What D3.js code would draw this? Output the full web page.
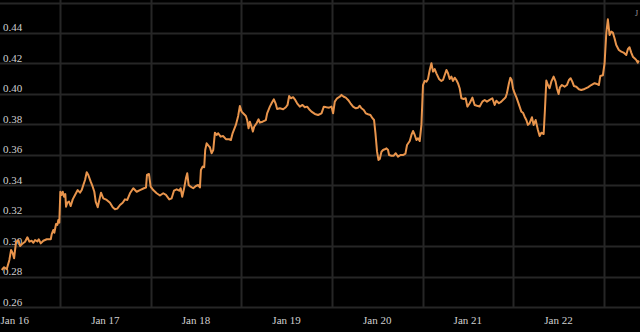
<!DOCTYPE html>
<html>
<head>
<meta charset="utf-8">
<script src="https://cdn.jsdelivr.net/npm/d3@7"></script>
<style>
  html, body { margin: 0; padding: 0; background: #000; }
  svg { display: block; }
</style>
</head>
<body>
<svg></svg>
<script>
// hours since Jan 16 00:00
const hours = [8.57,9.18,9.90,10.58,11.03,11.48,11.83,12.36,12.97,13.42,13.95,14.74,15.35,15.88,16.51,16.94,17.39,17.99,18.36,18.89,
  19.58,20.48,21.54,21.80,22.23,22.49,22.94,23.29,23.55,23.81,24.08,24.45,24.72,25.06,25.40,25.59,25.93,26.38,26.83,27.36,
  27.97,28.68,29.29,29.74,30.17,30.62,31.07,31.49,32.12,32.65,33.08,33.45,33.98,34.40,34.85,35.46,36.36,37.23,37.95,38.55,
  39.16,39.88,40.59,41.20,41.81,42.52,43.40,44.30,45.17,46.23,46.76,47.02,47.55,48.00,48.69,49.59,50.46,51.33,52.05,52.92,
  53.56,54.17,54.88,55.57,55.94,56.36,56.81,57.34,57.69,58.06,58.59,59.27,59.99,60.60,61.05,61.31,61.76,62.18,62.45,62.82,
  63.35,63.69,64.14,64.57,65.02,65.47,65.89,66.52,67.21,67.93,68.80,69.25,69.70,70.57,71.18,71.63,72.08,72.69,73.22,73.56,
  73.93,74.28,74.73,75.07,75.42,76.05,76.58,76.92,77.64,78.51,78.85,79.57,80.10,80.63,81.08,81.50,82.21,83.09,83.80,84.25,
  84.68,85.12,85.73,86.18,86.79,87.51,88.22,88.83,89.44,89.97,90.60,91.48,92.35,93.25,93.86,94.57,95.26,95.90,96.32,96.77,
  97.38,98.09,98.54,99.15,99.68,100.29,100.92,101.61,102.33,102.93,103.38,103.83,104.44,104.97,105.58,106.21,106.74,107.17,107.54,107.96,
  108.33,108.68,109.13,109.55,110.00,110.45,110.87,111.14,111.77,112.38,112.91,113.52,114.15,114.84,115.48,115.90,116.62,117.07,117.49,117.94,
  118.39,118.81,119.26,119.71,120.13,120.58,121.03,121.46,121.91,122.36,122.78,123.23,123.68,124.37,125.00,125.43,125.88,126.33,126.75,127.20,
  127.65,128.07,128.52,128.97,129.39,129.84,130.30,130.90,131.43,131.88,132.49,133.21,133.81,134.42,135.14,135.85,136.46,137.07,137.78,138.50,
  139.11,139.56,140.24,140.88,141.49,142.02,142.36,142.89,143.26,143.61,143.95,144.40,144.85,145.27,145.72,146.17,146.60,147.05,147.50,147.92,
  148.37,148.98,149.43,149.96,150.57,151.02,151.47,152.08,152.42,152.79,153.21,153.66,154.11,154.72,155.25,155.59,156.04,156.39,156.92,157.63,
  158.24,158.77,159.22,159.67,160.09,160.73,161.41,162.05,162.92,163.79,164.69,165.57,166.18,166.71,167.08,167.77,168.22,168.67,169.09,169.54,
  169.99,170.41,170.86,171.31,172.00,172.64,173.24,173.96,174.38,174.83,175.28,175.71,176.15,176.60,177.03,177.29];

const rate = [0.2843,0.2861,0.2849,0.2909,0.2974,0.2953,0.2920,0.3029,0.3040,0.3001,0.3014,0.3029,0.3058,0.3029,0.3035,0.3022,0.3040,0.3031,0.3045,0.3018,
  0.3035,0.3045,0.3045,0.3079,0.3106,0.3088,0.3145,0.3139,0.3171,0.3154,0.3357,0.3336,0.3357,0.3324,0.3342,0.3259,0.3285,0.3292,0.3263,0.3307,
  0.3336,0.3368,0.3351,0.3368,0.3401,0.3434,0.3485,0.3467,0.3423,0.3390,0.3357,0.3292,0.3255,0.3303,0.3351,0.3314,0.3303,0.3285,0.3255,0.3242,
  0.3246,0.3270,0.3285,0.3307,0.3303,0.3347,0.3380,0.3357,0.3368,0.3380,0.3384,0.3467,0.3474,0.3390,0.3368,0.3347,0.3332,0.3347,0.3336,0.3307,
  0.3314,0.3364,0.3373,0.3364,0.3380,0.3324,0.3373,0.3445,0.3478,0.3401,0.3390,0.3380,0.3395,0.3401,0.3386,0.3500,0.3522,0.3518,0.3631,0.3675,
  0.3658,0.3649,0.3610,0.3631,0.3745,0.3730,0.3741,0.3719,0.3723,0.3702,0.3702,0.3697,0.3741,0.3796,0.3855,0.3920,0.3883,0.3868,0.3855,0.3828,
  0.3774,0.3817,0.3784,0.3752,0.3784,0.3807,0.3833,0.3811,0.3817,0.3828,0.3872,0.3916,0.3942,0.3964,0.3938,0.3901,0.3905,0.3899,0.3912,0.3927,
  0.3986,0.3971,0.3978,0.3964,0.3938,0.3916,0.3927,0.3912,0.3916,0.3899,0.3883,0.3868,0.3861,0.3872,0.3916,0.3912,0.3909,0.3916,0.3872,0.3949,
  0.3971,0.3981,0.3993,0.3981,0.3975,0.3960,0.3938,0.3916,0.3905,0.3909,0.3922,0.3905,0.3894,0.3872,0.3866,0.3861,0.3840,0.3828,0.3741,0.3620,
  0.3566,0.3572,0.3620,0.3631,0.3636,0.3642,0.3631,0.3598,0.3594,0.3594,0.3610,0.3587,0.3598,0.3598,0.3607,0.3664,0.3690,0.3730,0.3756,0.3730,
  0.3697,0.3708,0.3690,0.3796,0.4058,0.4085,0.4080,0.4098,0.4157,0.4201,0.4146,0.4163,0.4135,0.4098,0.4085,0.4091,0.4124,0.4157,0.4135,0.4098,
  0.4113,0.4085,0.4106,0.4091,0.4070,0.4037,0.3971,0.3966,0.3971,0.3916,0.3938,0.3975,0.3927,0.3922,0.3917,0.3949,0.3960,0.3949,0.3960,0.3971,
  0.3927,0.3955,0.3938,0.3949,0.3964,0.3978,0.4004,0.4070,0.4106,0.4091,0.4037,0.4004,0.3978,0.3949,0.3916,0.3883,0.3876,0.3850,0.3828,0.3796,
  0.3807,0.3846,0.3796,0.3828,0.3763,0.3723,0.3745,0.3736,0.3894,0.4087,0.4058,0.4037,0.4080,0.4113,0.4080,0.4037,0.3999,0.4043,0.4058,0.4047,
  0.4058,0.4091,0.4102,0.4080,0.4052,0.4047,0.4030,0.4025,0.4032,0.4043,0.4058,0.4070,0.4065,0.4058,0.4117,0.4122,0.4201,0.4398,0.4490,0.4387,
  0.4409,0.4402,0.4365,0.4321,0.4288,0.4277,0.4271,0.4255,0.4293,0.4306,0.4271,0.4244,0.4234,0.4223,0.4205,0.4219];

const yTicks = [0.26, 0.28, 0.30, 0.32, 0.34, 0.36, 0.38, 0.40, 0.42, 0.44];
const yGrid = [0.26, 0.28, 0.30, 0.32, 0.34, 0.36, 0.38, 0.40, 0.42, 0.44, 0.46];
const dayLabels = ["Jan 16", "Jan 17", "Jan 18", "Jan 19", "Jan 20", "Jan 21", "Jan 22"];

let width = 640;
let height = 332;
let plotBottom = 307;

const start = new Date(2020, 0, 16);
const hr = h => new Date(start.getTime() + h * 3600 * 1000);

let dataset = hours.map((h, i) => ({ t: hr(h), v: rate[i] }));

let svg = d3.select("svg")
  .attr("width", width)
  .attr("height", height)
  .style("font-family", "'Liberation Serif', 'Times New Roman', serif");

svg.append("rect")
  .attr("width", width)
  .attr("height", height)
  .attr("fill", "#000");

let x_scale = d3.scaleTime()
  .domain([hr(8.1), hr(177.6)])
  .range([0, width]);

let y_scale = d3.scaleLinear()
  .domain([0.26, 0.46])
  .range([plotBottom, 2.5]);

// gridlines
svg.append("g")
  .selectAll("line")
  .data(yGrid)
  .enter()
  .append("line")
  .attr("x1", 0)
  .attr("x2", width)
  .attr("y1", d => Math.round(y_scale(d)) + 0.5)
  .attr("y2", d => Math.round(y_scale(d)) + 0.5)
  .attr("stroke", "#262626")
  .attr("stroke-width", 2);

let days = d3.timeDay.range(hr(24), hr(178));

svg.append("g")
  .selectAll("line")
  .data(days)
  .enter()
  .append("line")
  .attr("x1", d => Math.round(x_scale(d)) + 0.5)
  .attr("x2", d => Math.round(x_scale(d)) + 0.5)
  .attr("y1", 0)
  .attr("y2", plotBottom + 1)
  .attr("stroke", "#262626")
  .attr("stroke-width", 2);

// y labels
svg.append("g")
  .selectAll("text")
  .data(yTicks)
  .enter()
  .append("text")
  .attr("x", 3)
  .attr("y", d => y_scale(d) - 1.5)
  .attr("fill", "#d0d0d0")
  .attr("font-size", 11)
  .text(d => d3.format(".2f")(d));

// x labels at noon of each day
svg.append("g")
  .selectAll("text")
  .data(dayLabels)
  .enter()
  .append("text")
  .attr("x", (d, i) => x_scale(hr(i * 24 + 12)))
  .attr("y", 324)
  .attr("text-anchor", "middle")
  .attr("fill", "#d0d0d0")
  .attr("font-size", 11)
  .text(d => d);

svg.append("text")
  .attr("x", 635)
  .attr("y", 16)
  .attr("fill", "#9a9a9a")
  .attr("font-size", 8)
  .text("J");

let line = d3.line()
  .x(d => x_scale(d.t))
  .y(d => y_scale(d.v));

svg.append("path")
  .datum(dataset)
  .attr("d", line)
  .attr("fill", "none")
  .attr("stroke", "#e8944c")
  .attr("stroke-width", 2)
  .attr("stroke-linejoin", "round");
</script>
</body>
</html>
